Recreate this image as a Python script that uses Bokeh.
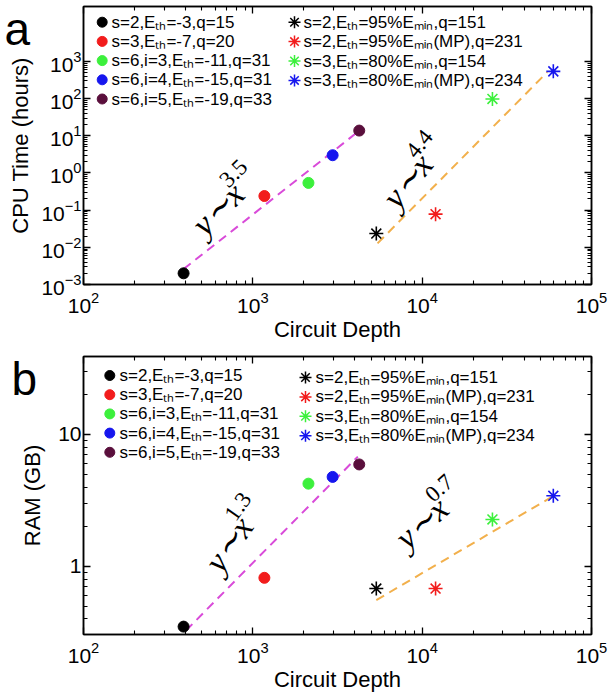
import math
from bokeh.plotting import figure
from bokeh.models import (LogAxis, FixedTicker, Label, GridBox,
                          BasicTickFormatter, CustomJSTickFormatter)
from bokeh.embed import file_html
from bokeh.resources import INLINE

# ---------------- data ----------------
depth_circ = [390, 1170, 2130, 2960, 4250]
cpu_circ = [0.002, 0.24, 0.54, 3.0, 13.8]
ram_circ = [0.35, 0.82, 4.24, 4.77, 5.93]
labels_circ = ["s=2,E\u209c\u2095=-3,q=15",
               "s=3,E\u209c\u2095=-7,q=20",
               "s=6,i=3,E\u209c\u2095=-11,q=31",
               "s=6,i=4,E\u209c\u2095=-15,q=31",
               "s=6,i=5,E\u209c\u2095=-19,q=33"]
colors_circ = ["#000000", "#f21c1c", "#3cf03c", "#1616ee", "#5a0f3c"]

depth_star = [5360, 12000, 26000, 59500]
cpu_star = [0.0235, 0.078, 98, 540]
ram_star = [0.68, 0.68, 2.27, 3.43]
labels_star = ["s=2,E\u209c\u2095=95%E\u2098\u1d62\u2099,q=151",
               "s=2,E\u209c\u2095=95%E\u2098\u1d62\u2099(MP),q=231",
               "s=3,E\u209c\u2095=80%E\u2098\u1d62\u2099,q=154",
               "s=3,E\u209c\u2095=80%E\u2098\u1d62\u2099(MP),q=234"]
colors_star = ["#000000", "#f21c1c", "#3cf03c", "#1616ee"]

fit_a1_x = [390, 4100]
fit_a1_y = [0.0026, 12]
fit_a2_x = [5450, 54800]
fit_a2_y = [0.0128, 515]
fit_b1_x = [403, 4170]
fit_b1_y = [0.327, 6.8]
fit_b2_x = [5360, 58900]
fit_b2_y = [0.556, 3.39]

exp_a = ["3.5", "4.4"]
exp_b = ["1.3", "0.7"]

x_major = [1e2, 1e3, 1e4, 1e5]
ya_major = [1e-3, 1e-2, 1e-1, 1e0, 1e1, 1e2, 1e3]
yb_major = [1, 10]

MAGENTA = "#d94bd9"
ORANGE = "#f2b04c"
FONT = "Liberation Sans"
W = 609
BL, BR = 83, 18
FW = W - BL - BR


def minors(lo, hi, rng):
    out = []
    for e in range(lo, hi):
        for m in range(2, 10):
            v = m * 10.0 ** e
            if rng[0] <= v <= rng[1]:
                out.append(v)
    return out


def style_axis(ax, labels=True):
    ax.axis_line_width = 1.5
    ax.axis_line_color = "black"
    ax.major_tick_in = 7
    ax.major_tick_out = 0
    ax.minor_tick_in = 4
    ax.minor_tick_out = 0
    ax.major_tick_line_width = 1.3
    ax.minor_tick_line_width = 1.1
    ax.major_tick_line_color = "black"
    ax.minor_tick_line_color = "black"
    ax.axis_label_text_font = FONT
    ax.axis_label_text_font_style = "normal"
    ax.axis_label_text_font_size = "22px"
    ax.axis_label_text_color = "black"
    ax.major_label_text_font = FONT
    ax.major_label_text_color = "black"
    if labels:
        ax.major_label_text_font_size = "21px"
    else:
        ax.major_label_text_font_size = "0px"
        ax.major_label_standoff = 0
        ax.formatter = CustomJSTickFormatter(code="return ''")


def make_fig(yr, h, top_b, bot_b, ylabel, y_major, y_minor, y_fmt, ylab_standoff):
    p = figure(x_axis_type="log", y_axis_type="log",
               x_range=(1e2, 1e5), y_range=yr, width=W, height=h,
               min_border_left=BL, min_border_right=BR,
               min_border_top=top_b, min_border_bottom=bot_b,
               output_backend="svg", toolbar_location=None)
    p.frame_align = False
    p.xgrid.visible = False
    p.ygrid.visible = False
    p.outline_line_color = "black"
    p.outline_line_width = 1.5
    p.background_fill_color = "white"
    p.border_fill_alpha = 0
    xt = FixedTicker(ticks=x_major, minor_ticks=minors(2, 5, (1e2, 1e5)))
    yt = FixedTicker(ticks=y_major, minor_ticks=y_minor)
    p.xaxis.ticker = xt
    p.yaxis.ticker = yt
    p.xaxis.axis_label = "Circuit Depth"
    p.yaxis.axis_label = ylabel
    style_axis(p.xaxis[0])
    style_axis(p.yaxis[0])
    p.xaxis.major_label_standoff = 7
    p.yaxis.major_label_standoff = 2
    p.xaxis.axis_label_standoff = 1
    p.yaxis.axis_label_standoff = ylab_standoff
    if y_fmt is not None:
        p.yaxis.formatter = y_fmt
    top = LogAxis(ticker=xt)
    right = LogAxis(ticker=yt)
    style_axis(top, labels=False)
    style_axis(right, labels=False)
    p.add_layout(top, "above")
    p.add_layout(right, "right")
    return p


def to_data(yr, fh, dx, dy):
    """frame-relative pixel offset (from top-left) -> data coords (layout only)"""
    lx0, lx1 = 2.0, 5.0
    ly0, ly1 = math.log10(yr[0]), math.log10(yr[1])
    return (10 ** (lx0 + dx / FW * (lx1 - lx0)),
            10 ** (ly1 - dy / fh * (ly1 - ly0)))


def add_points(p, ys_circ, ys_star):
    for x, y, c in zip(depth_circ, ys_circ, colors_circ):
        p.scatter([x], [y], marker="circle", size=11, fill_color=c, line_color=c)
    for x, y, c in zip(depth_star, ys_star, colors_star):
        p.scatter([x], [y], marker="asterisk", size=14, line_color=c, line_width=1.6)


def add_legend(p, yr, fh, labels, colors, marker, gx, tx, dy0, pitch):
    for i, (lab, c) in enumerate(zip(labels, colors)):
        dy = dy0 + pitch * i
        mx, my = to_data(yr, fh, gx, dy)
        if marker == "circle":
            p.scatter([mx], [my], marker="circle", size=10, fill_color=c, line_color=c)
        else:
            p.scatter([mx], [my], marker="asterisk", size=12, line_color=c, line_width=1.5)
        lx, ly = to_data(yr, fh, tx, dy)
        p.add_layout(Label(x=lx, y=ly, text=lab, text_font=FONT,
                           text_font_size="17px", text_align="left",
                           text_baseline="middle", text_color="black"))


def power_label(p, x, y, ang, expo, fs=34, sfs=23):
    th = math.radians(ang)
    p.add_layout(Label(x=x, y=y, text="y\u223cx", angle=ang, angle_units="deg",
                       text_font="Liberation Serif", text_font_style="italic",
                       text_font_size=f"{fs}px", text_align="left",
                       text_baseline="alphabetic", text_color="black"))
    w = 1.50 * fs
    h = 0.42 * fs
    dx = w * math.cos(th) - h * math.sin(th)
    dy = w * math.sin(th) + h * math.cos(th)
    p.add_layout(Label(x=x, y=y, x_offset=dx, y_offset=dy, text=expo, angle=ang,
                       angle_units="deg", text_font="Liberation Serif",
                       text_font_size=f"{sfs}px", text_align="left",
                       text_baseline="alphabetic", text_color="black"))


def letter_fig(txt, h, x, baseline_from_top):
    f = figure(width=W, height=h, x_range=(0, W), y_range=(0, h), min_border=0,
               x_axis_location=None, y_axis_location=None,
               output_backend="svg", toolbar_location=None)
    f.frame_align = False
    f.grid.visible = False
    f.outline_line_color = None
    f.background_fill_alpha = 0
    f.border_fill_alpha = 0
    f.add_layout(Label(x=x, y=h - baseline_from_top, text=txt, text_font=FONT,
                       text_font_size="46px", text_align="left",
                       text_baseline="alphabetic", text_color="black"))
    return f


# ---------------- panel a ----------------
HA, TA, BA = 344, 6, 60
FHA = HA - TA - BA
ya_range = (1e-3, 3.0e4)
pa = make_fig(ya_range, HA, TA, BA, "CPU Time (hours)", ya_major,
              minors(-3, 3, ya_range), None, 5)
pa.line(fit_a1_x, fit_a1_y, line_color=MAGENTA, line_width=2, line_dash="9 6")
pa.line(fit_a2_x, fit_a2_y, line_color=ORANGE, line_width=2, line_dash="9 6")
add_points(pa, cpu_circ, cpu_star)
add_legend(pa, ya_range, FHA, labels_circ, colors_circ, "circle", 18.7, 28, 15.7, 19.2)
add_legend(pa, ya_range, FHA, labels_star, colors_star, "star", 211, 220, 15.7, 19.4)
power_label(pa, 470, 0.03, 45, exp_a[0])
power_label(pa, 6380, 0.151, 51, exp_a[1])

# ---------------- panel b ----------------
HB, TB, BB = 352, 12, 62
FHB = HB - TB - BB
yb_range = (0.305, 39)
yb_minor = [v for v in [0.3, 0.4, 0.5, 0.6, 0.7, 0.8, 0.9] + minors(0, 2, yb_range)
            if yb_range[0] <= v <= yb_range[1]]
pb = make_fig(yb_range, HB, TB, BB, "RAM (GB)", yb_major, yb_minor,
              BasicTickFormatter(), 10)
pb.line(fit_b1_x, fit_b1_y, line_color=MAGENTA, line_width=2, line_dash="9 6")
pb.line(fit_b2_x, fit_b2_y, line_color=ORANGE, line_width=2, line_dash="9 6")
add_points(pb, ram_circ, ram_star)
add_legend(pb, yb_range, FHB, labels_circ, colors_circ, "circle", 26.3, 36, 19, 19.2)
add_legend(pb, yb_range, FHB, labels_star, colors_star, "star", 222, 232, 21, 19.4)
power_label(pb, 575, 0.97, 55, exp_b[0])
power_label(pb, 7400, 1.52, 42, exp_b[1])

la = letter_fig("a", HA, 4, 28)
lb = letter_fig("b", HB, 11, 34)

grid = GridBox(children=[(pa, 0, 0), (la, 0, 0), (pb, 1, 0), (lb, 1, 0)], spacing=0)
open("out.html", "w").write(file_html(grid, INLINE))
